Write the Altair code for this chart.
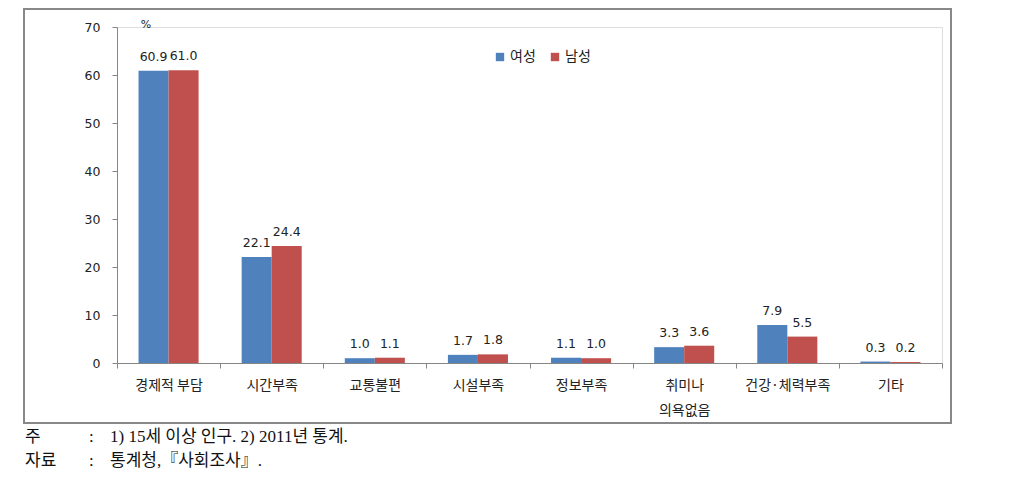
import altair as alt
import pandas as pd

categories = ["경제적 부담", "시간부족", "교통불편", "시설부족", "정보부족", "취미나\n의욕없음", "건강·체력부족", "기타"]
female = [60.9, 22.1, 1.0, 1.7, 1.1, 3.3, 7.9, 0.3]
male = [61.0, 24.4, 1.1, 1.8, 1.0, 3.6, 5.5, 0.2]
series = ["여성", "남성"]
colors = ["#4F81BD", "#C0504D"]
y_ticks = [0, 10, 20, 30, 40, 50, 60, 70]
note_heads = ["주", "자료"]
note_bodies = ["1) 15세 이상 인구. 2) 2011년 통계.", "통계청,『사회조사』."]

rows = []
for c, f, m in zip(categories, female, male):
    rows.append({"cat": c, "series": "여성", "value": f, "label": f"{f:.1f}"})
    rows.append({"cat": c, "series": "남성", "value": m, "label": f"{m:.1f}"})
df = pd.DataFrame(rows)

W, H = 825, 336
NUM_FONT = "DejaVu Sans"
KR_FONT = "Noto Sans CJK KR"

x_enc = alt.X("cat:N", sort=categories,
              scale=alt.Scale(paddingInner=0, paddingOuter=0),
              axis=alt.Axis(title=None, labelAngle=0, tickBand="extent",
                            labelExpr="split(datum.label, '\\n')",
                            labelFont=KR_FONT, labelFontSize=14, labelColor="#222",
                            labelLineHeight=25, labelPadding=10, tickSize=5,
                            domainColor="#868686", tickColor="#868686"))
xo_enc = alt.XOffset("series:N", sort=series,
                     scale=alt.Scale(domain=series, paddingInner=0, paddingOuter=0.717))
y_enc = alt.Y("value:Q", scale=alt.Scale(domain=[0, 70]),
              axis=alt.Axis(title=None, values=y_ticks, grid=False, tickSize=5,
                            labelFont=NUM_FONT, labelFontSize=12.5, labelColor="#222",
                            labelPadding=12, domainColor="#868686", tickColor="#868686"))

base = alt.Chart(df)

bars = base.mark_bar().encode(
    x=x_enc,
    xOffset=xo_enc,
    y=y_enc,
    color=alt.Color("series:N", scale=alt.Scale(domain=series, range=colors),
                    legend=alt.Legend(title=None, orient="none", direction="horizontal",
                                      legendX=376, legendY=23, symbolType="square",
                                      symbolSize=70, symbolStrokeWidth=0,
                                      labelFont=KR_FONT, labelFontSize=14, labelColor="#222",
                                      labelOffset=3, columnPadding=12, padding=0)),
)

labels = base.mark_text(baseline="bottom", dy=-7, font=NUM_FONT, fontSize=12.5, color="#222").encode(
    x=alt.X("cat:N", sort=categories),
    xOffset=alt.XOffset("series:N", sort=series),
    y="value:Q",
    text="label:N",
)

one = pd.DataFrame({"k": [0]})
border = alt.Chart(one).mark_rect(fill="white", fillOpacity=0, stroke="#888888", strokeWidth=2).encode(
    x=alt.value(-93), x2=alt.value(834), y=alt.value(-18), y2=alt.value(396))

pct = alt.Chart(one).mark_text(text="%", font=NUM_FONT, fontSize=11, color="#222").encode(
    x=alt.value(29), y=alt.value(-2))

note_font = "Liberation Serif, Noto Sans CJK KR"
note_layers = []
for i, (h, b) in enumerate(zip(note_heads, note_bodies)):
    yy = 410 + 24 * i
    note_layers.append(alt.Chart(one).mark_text(align="left", text=h, font=note_font, fontSize=17, color="#111").encode(
        x=alt.value(-92), y=alt.value(yy)))
    note_layers.append(alt.Chart(one).mark_text(align="left", text=":", font=note_font, fontSize=17, color="#111").encode(
        x=alt.value(-28), y=alt.value(yy)))
    note_layers.append(alt.Chart(one).mark_text(align="left", text=b, font=note_font, fontSize=17, color="#111").encode(
        x=alt.value(-7), y=alt.value(yy)))

chart = alt.layer(border, bars, labels, pct, *note_layers).properties(
    width=W, height=H,
    autosize=alt.AutoSizeParams(type="none"),
    padding={"left": 109, "top": 19, "right": 60, "bottom": 110},
).configure_view(stroke=None).configure(background="white")

chart.save("out.html", embed_options={"renderer": "svg", "actions": False})
